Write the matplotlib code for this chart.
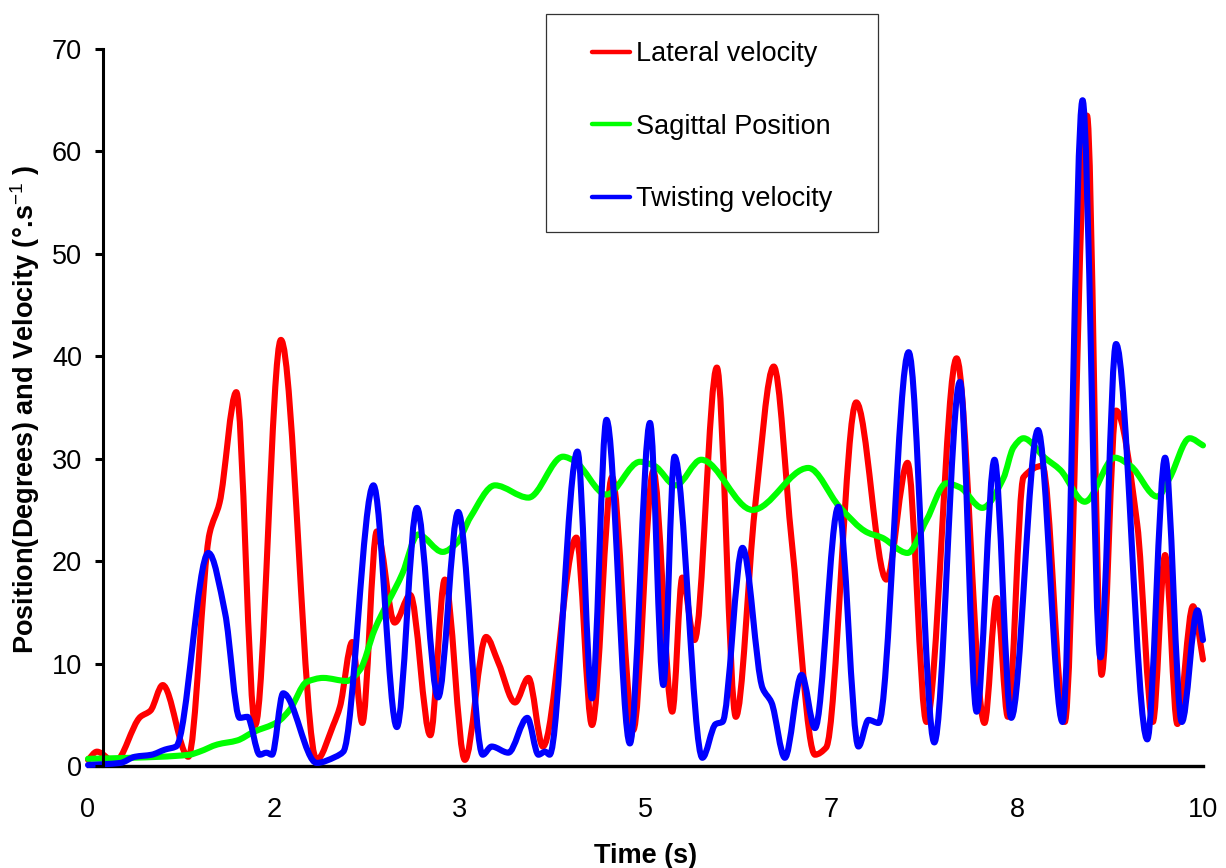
import numpy as np
import matplotlib
matplotlib.use("Agg")
import matplotlib.pyplot as plt
from matplotlib.path import Path
from matplotlib.patches import PathPatch, Rectangle
from matplotlib.lines import Line2D

plt.rcParams['font.family'] = ['Liberation Sans', 'DejaVu Sans']
plt.rcParams['mathtext.fontset'] = 'custom'
plt.rcParams['mathtext.rm'] = 'Liberation Sans'
plt.rcParams['mathtext.bf'] = 'Liberation Sans:bold'

# values (time in s, degrees or deg/s)
lat_t = [0.00, 0.08, 0.24, 0.47, 0.56, 0.67, 0.90, 1.09, 1.18, 1.33, 1.50, 1.73, 2.05, 2.20, 2.26,
         2.37, 2.46, 2.59, 2.75, 2.89, 3.07, 3.20, 3.38, 3.57, 3.68, 3.83, 3.95, 4.08, 4.38, 4.52,
         4.70, 4.89, 5.07, 5.24, 5.33, 5.44, 5.64, 5.81, 5.98, 6.15, 6.31, 6.52, 6.62, 6.89, 7.16,
         7.35, 7.52, 7.79, 8.04, 8.15, 8.25, 8.39, 8.56, 8.76, 8.96, 9.09, 9.22, 9.41, 9.55, 9.66,
         9.77, 9.91, 10.0]
lat_v = [0.6, 1.4, 0.4, 4.8, 5.4, 7.9, 0.9, 22.7, 25.7, 36.5, 4.0, 41.6, 0.6, 4.0, 5.8,
         12.1, 4.2, 22.9, 14.0, 16.7, 3.0, 18.2, 0.6, 12.6, 10.1, 6.2, 8.6, 1.9, 22.3, 4.0,
         28.2, 3.5, 28.8, 5.3, 18.4, 12.3, 38.9, 4.8, 25.0, 39.0, 22.1, 1.1, 1.8, 35.5, 18.2,
         29.6, 4.3, 39.8, 4.2, 16.4, 4.8, 28.2, 29.3, 4.3, 63.5, 8.9, 34.7, 23.6, 4.3, 20.6,
         4.1, 15.6, 10.4]

sag_t = [0.00, 0.38, 0.91, 1.00, 1.16, 1.34, 1.48, 1.70, 1.81, 1.96, 2.11, 2.32, 2.44, 2.57, 2.82,
         2.96, 3.18, 3.31, 3.43, 3.65, 3.95, 4.26, 4.36, 4.65, 4.95, 5.08, 5.27, 5.50, 5.96, 6.46,
         6.74, 6.99, 7.12, 7.35, 7.52, 7.70, 7.82, 8.02, 8.21, 8.30, 8.39, 8.58, 8.72, 8.94, 9.21,
         9.35, 9.59, 9.70, 9.88, 10.0]
sag_v = [0.7, 0.8, 1.1, 1.4, 2.1, 2.5, 3.3, 4.3, 5.5, 8.2, 8.6, 8.3, 9.4, 13.3, 18.8,
         22.6, 20.9, 21.8, 24.3, 27.4, 26.2, 30.2, 29.8, 26.5, 29.7, 29.3, 27.4, 29.9, 25.0, 29.1,
         25.3, 22.8, 22.3, 20.8, 24.0, 27.6, 27.2, 25.2, 28.1, 31.1, 32.0, 30.1, 28.9, 25.8, 30.1,
         29.3, 26.3, 28.1, 32.0, 31.3]

twi_t = [0.00, 0.29, 0.42, 0.57, 0.69, 0.79, 1.08, 1.23, 1.36, 1.43, 1.54, 1.60, 1.65, 1.75,
         2.05, 2.22, 2.29, 2.56, 2.77, 2.95, 3.14, 3.32, 3.54, 3.62, 3.77, 3.94, 4.04, 4.10, 4.14,
         4.39, 4.52, 4.65, 4.86, 5.04, 5.16, 5.26, 5.51, 5.63, 5.69, 5.87, 6.05, 6.13, 6.25, 6.40,
         6.52, 6.73, 6.91, 7.00, 7.09, 7.36, 7.59, 7.82, 7.97, 8.13, 8.28, 8.52, 8.74, 8.92, 9.08,
         9.22, 9.50, 9.66, 9.81, 9.95, 10.0]
twi_v = [0.1, 0.3, 0.9, 1.1, 1.6, 1.9, 20.8, 14.9, 4.7, 4.8, 1.1, 1.3, 1.1, 7.1,
         0.3, 0.9, 1.4, 27.4, 3.8, 25.2, 6.7, 24.8, 1.1, 1.9, 1.3, 4.7, 1.1, 1.4, 1.1,
         30.7, 6.6, 33.8, 2.2, 33.5, 7.9, 30.2, 0.8, 4.1, 4.3, 21.3, 7.6, 6.2, 0.8, 8.9,
         3.7, 25.3, 1.9, 4.5, 4.2, 40.4, 2.3, 37.5, 5.3, 29.9, 4.7, 32.8, 4.3, 65.0, 10.6,
         41.2, 2.6, 30.1, 4.3, 15.2, 12.3]

series_names = ["Lateral velocity", "Sagittal Position", "Twisting velocity"]
series_colors = ["#FF0000", "#00FF00", "#0000FF"]

xtick_pos = [0, 10 / 6, 20 / 6, 5, 40 / 6, 50 / 6, 10]
xtick_labels = ["0", "2", "3", "5", "7", "8", "10"]


def smooth_path(xs, ys):
    # smoothed line through every point (monotone cubic bezier, no overshoot)
    x = np.asarray(xs, float)
    y = np.asarray(ys, float)
    h = np.diff(x)
    d = np.diff(y) / h
    m = np.zeros_like(y)
    m[0], m[-1] = d[0], d[-1]
    for k in range(1, len(x) - 1):
        if d[k - 1] * d[k] > 0:
            w1 = 2 * h[k] + h[k - 1]
            w2 = h[k] + 2 * h[k - 1]
            m[k] = (w1 + w2) / (w1 / d[k - 1] + w2 / d[k])
    verts = [(x[0], y[0])]
    codes = [Path.MOVETO]
    for k in range(len(x) - 1):
        verts += [(x[k] + h[k] / 3, y[k] + m[k] * h[k] / 3),
                  (x[k + 1] - h[k] / 3, y[k + 1] - m[k + 1] * h[k] / 3),
                  (x[k + 1], y[k + 1])]
        codes += [Path.CURVE4] * 3
    return Path(verts, codes)


W, H = 1226, 868
fig = plt.figure(figsize=(W / 100, H / 100), dpi=100)
ax = fig.add_axes([88 / W, (H - 766) / H, (1203 - 88) / W, (766 - 49) / H])
ax.set_xlim(0, 10)
ax.set_ylim(0, 70)

for (t, v), c in zip([(lat_t, lat_v), (sag_t, sag_v), (twi_t, twi_v)], series_colors):
    ax.add_patch(PathPatch(smooth_path(t, v), fill=False, edgecolor=c, lw=4.4,
                           transform=ax.transData, clip_on=False,
                           capstyle='round', joinstyle='round'))

for s in ["top", "right"]:
    ax.spines[s].set_visible(False)
ax.spines["left"].set_position(("data", 0.135))
ax.spines["left"].set_linewidth(2.2)
ax.spines["bottom"].set_linewidth(2.4)
ax.spines["bottom"].set_zorder(0.5)

ax.set_yticks(range(0, 71, 10))
ax.tick_params(axis="y", direction="out", length=6, width=2.2, labelsize=19.5, pad=9)
ax.set_xticks(xtick_pos)
ax.set_xticklabels(xtick_labels)
ax.tick_params(axis="x", length=0, labelsize=19.5, pad=22)

ax.set_xlabel("Time (s)", fontsize=19.5, fontweight="bold")
ax.xaxis.set_label_coords(0.5, -0.107)
ax.set_ylabel(r"Position(Degrees) and Velocity (°.s$^{\mathrm{-1}}$ )", fontsize=19.5,
              fontweight="bold")
ax.yaxis.set_label_coords(-0.041, 0.498)

handles = [Line2D([], [], color=c, lw=3.2, solid_capstyle="round") for c in series_colors]
fig.legend(handles, series_names, loc="upper left", bbox_to_anchor=(592 / W, 1 - 41 / H),
           frameon=False, fontsize=19.5, handlelength=1.4, handletextpad=0.22,
           labelspacing=1.72, borderpad=0, borderaxespad=0)
fig.patches.append(Rectangle((546 / W, (H - 232) / H), 332 / W, 218 / H, fill=False,
                             edgecolor="#333333", lw=0.9, transform=fig.transFigure))

fig.savefig("out.png", dpi=100)
